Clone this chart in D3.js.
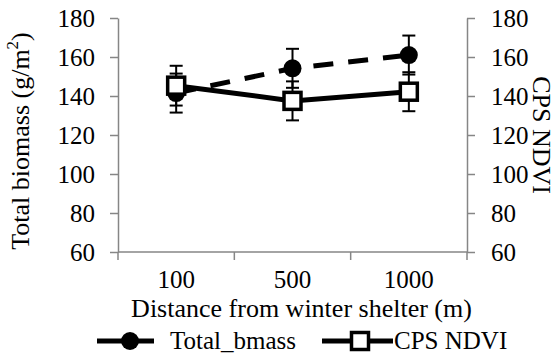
<!DOCTYPE html>
<html>
<head>
<meta charset="utf-8">
<script src="https://cdn.jsdelivr.net/npm/d3@7"></script>
<style>
  html, body { margin: 0; padding: 0; background: #fff; }
  svg { display: block; }
  svg text, svg tspan { font-family: 'Liberation Serif', 'Times New Roman', Tinos, serif !important; }
</style>
</head>
<body>
<svg id="chart" width="560" height="360"></svg>
<script>
// Distances from the winter shelter (m)
const distances = ["100", "500", "1000"];
// Total biomass (g/m^2), left axis
const totalBmass = [141.5, 154.2, 161];
const totalBmassErr = [10, 10, 10];
// CPS NDVI, right axis
const cpsNdvi = [145.3, 137.5, 142.2];
const cpsNdviErr = [10.2, 10, 10];
// Shared tick values for both vertical axes
const yTicks = [60, 80, 100, 120, 140, 160, 180];

const FONT = "'Liberation Serif', 'Times New Roman', Tinos, serif";
const svg = d3.select("#chart").style("font-family", FONT, "important");
const m = { left: 118, right: 467, top: 18, bottom: 252 };
const axisGrey = "#868686";
const tickFont = 25, titleFont = 26;

// serif text helper
function txt(sel, size) {
  return sel.attr("font-family", "Liberation Serif").style("font-family", FONT, "important")
    .style("font-size", size + "px").attr("fill", "#000");
}

const x = d3.scaleBand().domain(distances).range([m.left, m.right]).padding(0);
const yL = d3.scaleLinear().domain([60, 180]).range([m.bottom, m.top]);
const yR = d3.scaleLinear().domain([60, 180]).range([m.bottom, m.top]);
const cx = d => x(d) + x.bandwidth() / 2;

function styleAxis(g) {
  g.attr("font-family", "Liberation Serif");
  g.selectAll("path.domain").attr("stroke", axisGrey).attr("stroke-width", 1.5);
  g.selectAll(".tick line").attr("stroke", axisGrey).attr("stroke-width", 1.5);
  txt(g.selectAll(".tick text"), tickFont);
}

// Left axis
svg.append("g").attr("transform", `translate(${m.left},0)`)
  .call(d3.axisLeft(yL).tickValues(yTicks).tickSize(8).tickPadding(15).tickSizeOuter(0))
  .call(styleAxis);

// Right axis
svg.append("g").attr("transform", `translate(${m.right},0)`)
  .call(d3.axisRight(yR).tickValues(yTicks).tickSize(8).tickPadding(16).tickSizeOuter(0))
  .call(styleAxis);

// Bottom axis: labels at category centres, ticks on category boundaries
const xAxisG = svg.append("g").attr("transform", `translate(0,${m.bottom})`);
xAxisG.append("line").attr("x1", m.left).attr("x2", m.right)
  .attr("stroke", axisGrey).attr("stroke-width", 1.5);
const bounds = distances.map(d => x(d)).concat([x(distances[distances.length - 1]) + x.bandwidth()]);
xAxisG.selectAll("line.bt").data(bounds).join("line").attr("class", "bt")
  .attr("x1", d => d).attr("x2", d => d).attr("y1", 0).attr("y2", 8)
  .attr("stroke", axisGrey).attr("stroke-width", 1.5);
txt(xAxisG.selectAll("text.xl").data(distances).join("text").attr("class", "xl")
  .attr("x", d => cx(d)).attr("y", 36).attr("text-anchor", "middle"), tickFont)
  .text(d => d);

// Axis titles
const lt = txt(svg.append("text")
  .attr("transform", `translate(29,${(m.top + m.bottom) / 2 + 6}) rotate(-90)`)
  .attr("text-anchor", "middle"), titleFont);
lt.append("tspan").text("Total biomass (g/m");
lt.append("tspan").style("font-size", Math.round(titleFont * 0.65) + "px").attr("dy", -11).text("2");
lt.append("tspan").attr("dy", 11).text(")");

txt(svg.append("text")
  .attr("transform", `translate(533,${(m.top + m.bottom) / 2}) rotate(90)`)
  .attr("text-anchor", "middle"), titleFont).text("CPS NDVI");

txt(svg.append("text").attr("x", (m.left + m.right) / 2 + 9).attr("y", 317)
  .attr("text-anchor", "middle"), titleFont)
  .text("Distance from winter shelter (m)");

// Series
const lineW = 5;
const capW = 13;

function errorBars(vals, errs, scale) {
  const g = svg.append("g");
  distances.forEach((d, i) => {
    const xc = cx(d), hi = scale(vals[i] + errs[i]), lo = scale(vals[i] - errs[i]);
    g.append("line").attr("x1", xc).attr("x2", xc).attr("y1", hi).attr("y2", lo)
      .attr("stroke", "#000").attr("stroke-width", 2);
    [hi, lo].forEach(yy => g.append("line")
      .attr("x1", xc - capW / 2).attr("x2", xc + capW / 2).attr("y1", yy).attr("y2", yy)
      .attr("stroke", "#000").attr("stroke-width", 2));
  });
}

errorBars(totalBmass, totalBmassErr, yL);
errorBars(cpsNdvi, cpsNdviErr, yR);

const lineL = d3.line().x((v, i) => cx(distances[i])).y(v => yL(v));
const lineR = d3.line().x((v, i) => cx(distances[i])).y(v => yR(v));

svg.append("path").attr("d", lineL(totalBmass)).attr("fill", "none")
  .attr("stroke", "#000").attr("stroke-width", lineW).attr("stroke-dasharray", "20,15");
svg.selectAll("circle.tb").data(totalBmass).join("circle").attr("class", "tb")
  .attr("cx", (v, i) => cx(distances[i])).attr("cy", v => yL(v)).attr("r", 9).attr("fill", "#000");

svg.append("path").attr("d", lineR(cpsNdvi)).attr("fill", "none")
  .attr("stroke", "#000").attr("stroke-width", lineW);
svg.selectAll("rect.cp").data(cpsNdvi).join("rect").attr("class", "cp")
  .attr("x", (v, i) => cx(distances[i]) - 8.5).attr("y", v => yR(v) - 8.5)
  .attr("width", 17).attr("height", 17).attr("fill", "#fff")
  .attr("stroke", "#000").attr("stroke-width", 3.5);

// Legend
const ly = 341;
const lg = svg.append("g");
lg.append("line").attr("x1", 97).attr("x2", 123).attr("y1", ly).attr("y2", ly)
  .attr("stroke", "#000").attr("stroke-width", lineW);
lg.append("line").attr("x1", 137).attr("x2", 154).attr("y1", ly).attr("y2", ly)
  .attr("stroke", "#000").attr("stroke-width", lineW);
lg.append("circle").attr("cx", 130).attr("cy", ly).attr("r", 9).attr("fill", "#000");
txt(lg.append("text").attr("x", 170).attr("y", ly + 8), tickFont).text("Total_bmass");

lg.append("line").attr("x1", 322).attr("x2", 393).attr("y1", ly).attr("y2", ly)
  .attr("stroke", "#000").attr("stroke-width", lineW);
lg.append("rect").attr("x", 351.5).attr("y", ly - 8.5).attr("width", 17).attr("height", 17)
  .attr("fill", "#fff").attr("stroke", "#000").attr("stroke-width", 3.5);
txt(lg.append("text").attr("x", 394).attr("y", ly + 8), tickFont).text("CPS NDVI");
</script>
</body>
</html>
